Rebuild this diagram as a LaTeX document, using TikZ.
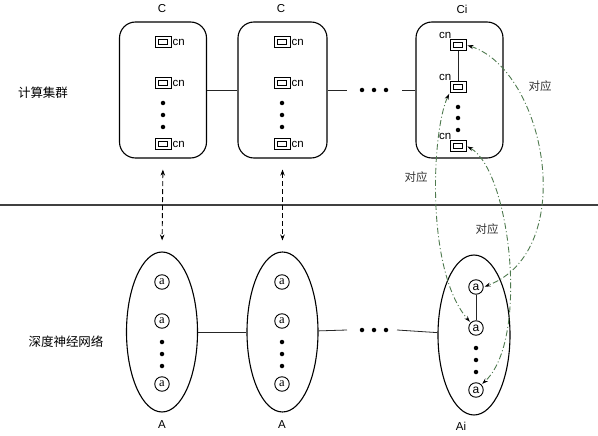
\documentclass[tikz,border=0pt]{standalone}
\usepackage{fontspec}
\setmainfont{Liberation Serif}
\setsansfont{Liberation Sans}
\newfontfamily\zhfont{Noto Sans CJK SC}
\usetikzlibrary{arrows.meta,shapes.geometric}
\definecolor{mapgreen}{HTML}{4F7A4F}

\begin{document}
\begin{tikzpicture}[x=1pt, y=-1pt,
    every node/.style={font=\sffamily\fontsize{11.5}{13}\selectfont},
    cluster/.style={draw, line width=1.1pt, rectangle, rounded corners=16pt,
                    minimum width=87pt, minimum height=136pt, inner sep=0pt},
    layer/.style={draw, line width=1.1pt, ellipse,
                  minimum width=71pt, minimum height=160pt, inner sep=0pt},
    cnbox/.style={draw, line width=0.9pt, rectangle, inner sep=0pt,
                  minimum width=16pt, minimum height=11pt,
                  path picture={\draw[line width=0.8pt]
                      ([xshift=-4.5pt,yshift=-2.5pt]path picture bounding box.center) rectangle
                      ([xshift=4.5pt,yshift=2.5pt]path picture bounding box.center);}},
    neuron/.style={draw, line width=0.9pt, circle, minimum size=14.5pt, inner sep=0pt,
                   font=\rmfamily\fontsize{12.5}{13}\selectfont},
    neuroni/.style={neuron, font=\sffamily\fontsize{12}{13}\selectfont},
    vdot/.style={circle, fill=black, minimum size=4.5pt, inner sep=0pt},
    zhlabel/.style={font=\zhfont\fontsize{12.5}{14}\selectfont},
    maplabel/.style={font=\zhfont\fontsize{11.5}{13}\selectfont, text=black!80},
    link/.style={line width=0.8pt, color=black!85},
    sepline/.style={line width=1.2pt, color=black!75},
    vlink/.style={line width=0.9pt, dash pattern=on 5pt off 3pt,
                  {Stealth[length=6pt,width=4.5pt]}-{Stealth[length=6pt,width=4.5pt]},
                  shorten >=11pt, shorten <=11pt},
    maplink/.style={mapgreen, line width=0.9pt, dash pattern=on 6pt off 2.5pt on 1pt off 2.5pt,
                    {Stealth[length=6pt,width=4pt,color=black]}-{Stealth[length=6pt,width=4pt,color=black]},
                    shorten >=1pt, shorten <=1pt}
]
\useasboundingbox (0,0) rectangle (598,436);

% --- Computing clusters ---
\node[cluster] (cl1) at (163,90) {};
\node[cluster, minimum width=89pt] (cl2) at (282.5,90) {};
\node[cluster] (cli) at (459.5,90) {};

\node (tC1) at (162,9)  {C};
\node (tC2) at (281,9)  {C};
\node (tCi) at (462,9)  {Ci};

\node[cnbox, label={[inner sep=1pt]right:cn}] (cn11) at (163,42)  {};
\node[cnbox, label={[inner sep=1pt]right:cn}] (cn12) at (163,83)  {};
\node[cnbox, label={[inner sep=1pt]right:cn}] (cn13) at (163,144) {};
\node[vdot] (dc11) at (163,103) {};
\node[vdot] (dc12) at (163,115) {};
\node[vdot] (dc13) at (163,127) {};

\node[cnbox, label={[inner sep=1pt]right:cn}] (cn21) at (282,42)  {};
\node[cnbox, label={[inner sep=1pt]right:cn}] (cn22) at (282,83)  {};
\node[cnbox, label={[inner sep=1pt]right:cn}] (cn23) at (282,144) {};
\node[vdot] (dc21) at (282,103) {};
\node[vdot] (dc22) at (282,115) {};
\node[vdot] (dc23) at (282,127) {};

\node[cnbox, label={[inner sep=0.5pt]above left:cn}] (cni1) at (458,45)  {};
\node[cnbox, label={[inner sep=0.5pt]above left:cn}] (cni2) at (458,87)  {};
\node[cnbox, label={[inner sep=0.5pt]above left:cn}] (cni3) at (458,146) {};
\node[vdot] (dci1) at (458,107) {};
\node[vdot] (dci2) at (458,118) {};
\node[vdot] (dci3) at (458,130) {};
\draw[link] (cni1) -- (cni2);

\coordinate (gapCa) at (347,90);
\coordinate (gapCb) at (402,90);
\draw[link] (cl1) -- (cl2);
\draw[link] (cl2) -- (gapCa);
\draw[link] (gapCb) -- (cli);
\node[vdot] (dgc1) at (362,90) {};
\node[vdot] (dgc2) at (374,90) {};
\node[vdot] (dgc3) at (386,90) {};

\node[zhlabel] (zhC) at (43,93) {计算集群};

% --- Separator ---
\coordinate (sepL) at (0,205);
\coordinate (sepR) at (598,205);
\draw[sepline] (sepL) -- (sepR);

% --- Deep neural network layers ---
\node[layer] (la1) at (162,332) {};
\node[layer] (la2) at (282.5,332) {};
\node[layer, minimum width=72pt] (lai) at (474,335) {};

\node (tA1) at (162,425) {A};
\node (tA2) at (282,425) {A};
\node (tAi) at (461,426) {Ai};

\node[neuron] (a11) at (162,282) {a};
\node[neuron] (a12) at (162,321) {a};
\node[neuron] (a13) at (162,384) {a};
\node[vdot] (da11) at (162,342) {};
\node[vdot] (da12) at (162,354) {};
\node[vdot] (da13) at (162,366) {};

\node[neuron] (a21) at (282,282) {a};
\node[neuron] (a22) at (282,321) {a};
\node[neuron] (a23) at (282,384) {a};
\node[vdot] (da21) at (282,342) {};
\node[vdot] (da22) at (282,354) {};
\node[vdot] (da23) at (282,366) {};

\node[neuroni] (ai1) at (476,287) {a};
\node[neuroni] (ai2) at (476,328) {a};
\node[neuroni] (ai3) at (476,390) {a};
\node[vdot] (dai1) at (476,348) {};
\node[vdot] (dai2) at (476,360) {};
\node[vdot] (dai3) at (476,372) {};
\draw[link] (ai1) -- (ai2);

\coordinate (gapAa) at (347,330);
\coordinate (gapAb) at (397,330);
\draw[link] (la1) -- (la2);
\draw[link] (la2) -- (gapAa);
\draw[link] (gapAb) -- (lai);
\node[vdot] (dga1) at (362,330) {};
\node[vdot] (dga2) at (374,330) {};
\node[vdot] (dga3) at (386,330) {};

\node[zhlabel] (zhA) at (66,342) {深度神经网络};

% --- Cluster <-> layer links ---
\draw[vlink] (cl1.south) -- (la1.north);
\draw[vlink] (cl2.south) -- (la2.north);

% --- Correspondence cn <-> a ---
\draw[maplink] (cni2.south west) .. controls (432,130) and (425,270) .. (ai2.north west);
\draw[maplink] (cni1.east) .. controls (545,70) and (580,250) .. (ai1.east);
\draw[maplink] (cni3.east) .. controls (510,170) and (530,340) .. (ai3.north east);

\node[maplabel] (mapL) at (416,177) {对应};
\node[maplabel] (mapR) at (540,86)  {对应};
\node[maplabel] (mapM) at (487,229) {对应};

\end{tikzpicture}
\end{document}
